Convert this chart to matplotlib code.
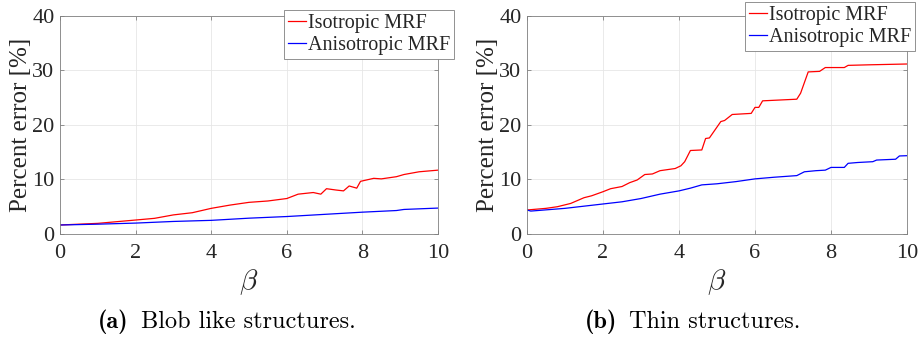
import numpy as np
import matplotlib.pyplot as plt

# values
blob_iso_x = [0, 1, 2, 2.5, 3, 3.5, 4, 4.5, 5, 5.5, 6, 6.3, 6.7, 6.9, 7.05, 7.3, 7.5,
              7.65, 7.85, 7.95, 8.3, 8.5, 8.9, 9.1, 9.5, 10]
blob_iso_y = [1.65, 1.95, 2.56, 2.87, 3.5, 3.9, 4.7, 5.3, 5.8, 6.05, 6.5, 7.3, 7.6, 7.3,
              8.3, 8.06, 7.9, 8.8, 8.4, 9.65, 10.2, 10.1, 10.5, 10.9, 11.4, 11.7]
blob_aniso_x = [0, 1, 2, 3, 4, 5, 6, 7, 8, 8.9, 9.1, 10]
blob_aniso_y = [1.65, 1.8, 2.0, 2.3, 2.5, 2.9, 3.2, 3.6, 4.0, 4.3, 4.5, 4.75]

thin_iso_x = [0, 0.5, 0.8, 1.15, 1.5, 1.7, 2, 2.2, 2.5, 2.7, 2.9, 3.1, 3.3, 3.5, 3.9,
              4.05, 4.15, 4.3, 4.6, 4.7, 4.8, 5.1, 5.2, 5.4, 5.9, 6.0, 6.1, 6.2, 7.1,
              7.2, 7.4, 7.7, 7.85, 8.35, 8.45, 9, 10]
thin_iso_y = [4.4, 4.7, 5.0, 5.6, 6.65, 7.0, 7.75, 8.3, 8.7, 9.4, 9.9, 10.9, 11.0, 11.6,
              12.0, 12.5, 13.25, 15.3, 15.4, 17.5, 17.6, 20.6, 20.8, 21.9, 22.1, 23.2,
              23.2, 24.4, 24.7, 25.8, 29.7, 29.8, 30.5, 30.5, 30.9, 31.0, 31.15]
thin_aniso_x = [0, 0.1, 1, 2, 2.5, 3, 3.5, 4, 4.3, 4.6, 5, 5.5, 6, 6.5, 7.1, 7.3, 7.6,
                7.85, 8.0, 8.35, 8.45, 8.7, 9.1, 9.2, 9.7, 9.8, 10]
thin_aniso_y = [4.4, 4.2, 4.7, 5.5, 5.9, 6.5, 7.3, 7.9, 8.4, 9.0, 9.2, 9.6, 10.1, 10.4,
                10.7, 11.4, 11.6, 11.7, 12.2, 12.2, 12.95, 13.1, 13.25, 13.55, 13.7,
                14.3, 14.35]

x_ticks = [0, 2, 4, 6, 8, 10]
y_ticks = [0, 10, 20, 30, 40]
labels = ['Isotropic MRF', 'Anisotropic MRF']
cap_tags = ['(a)', '(b)']
cap_texts = ['Blob like structures.', 'Thin structures.']

plt.rcParams['font.family'] = ['Liberation Serif', 'DejaVu Serif']
plt.rcParams['mathtext.fontset'] = 'cm'

fig = plt.figure(figsize=(9.23, 3.38), dpi=100)
W, H = 923, 338
# axes left/right px, data, legend corner px, caption split px
panels = [
    (60, 438, blob_iso_x, blob_iso_y, blob_aniso_x, blob_aniso_y, (454, 10), 134),
    (527, 907, thin_iso_x, thin_iso_y, thin_aniso_x, thin_aniso_y, (915, 2), 622),
]
for i, (l, r, ix, iy, ax_, ay, leg, cx) in enumerate(panels):
    ax = fig.add_axes([l / W, (H - 234) / H, (r - l) / W, (234 - 15.7) / H])
    ax.plot(ix, iy, color='#ff0000', lw=0.9, label=labels[0])
    ax.plot(ax_, ay, color='#0000ff', lw=0.9, label=labels[1])
    ax.set_xlim(0, 10)
    ax.set_ylim(0, 40)
    ax.set_xticks(x_ticks)
    ax.set_yticks(y_ticks)
    ax.grid(True, color='#e6e6e6', lw=0.6)
    ax.tick_params(direction='in', top=True, right=True, length=3, width=0.6,
                   colors='#808080', labelcolor='#262626', labelsize=16)
    ax.tick_params(axis='x', pad=7)
    ax.tick_params(axis='y', pad=4)
    for s in ax.spines.values():
        s.set_color('#808080')
        s.set_linewidth(0.6)
    ax.set_ylabel('Percent error [%]', fontsize=18, color='#262626', labelpad=0)
    ax.set_xlabel(r'$\beta$', fontsize=21, color='#262626', labelpad=3)
    lg = ax.legend(loc='upper right', bbox_to_anchor=(leg[0] / W, 1 - leg[1] / H),
                   bbox_transform=fig.transFigure, borderaxespad=0, fontsize=14.5,
                   handlelength=0.9, handletextpad=0.1, borderpad=0.2,
                   labelspacing=0.15, fancybox=False, framealpha=1)
    lg.get_frame().set_edgecolor('#808080')
    lg.get_frame().set_linewidth(0.6)
    for t in lg.get_texts():
        t.set_color('#262626')
    fig.text((cx - 5) / W, 16 / H, cap_tags[i], ha='right', va='center', fontsize=17.5,
             family='cmb10')
    fig.text((cx + 7) / W, 16 / H, cap_texts[i], ha='left', va='center', fontsize=17.5,
             family='cmr10')

fig.savefig('out.png', dpi=100)
